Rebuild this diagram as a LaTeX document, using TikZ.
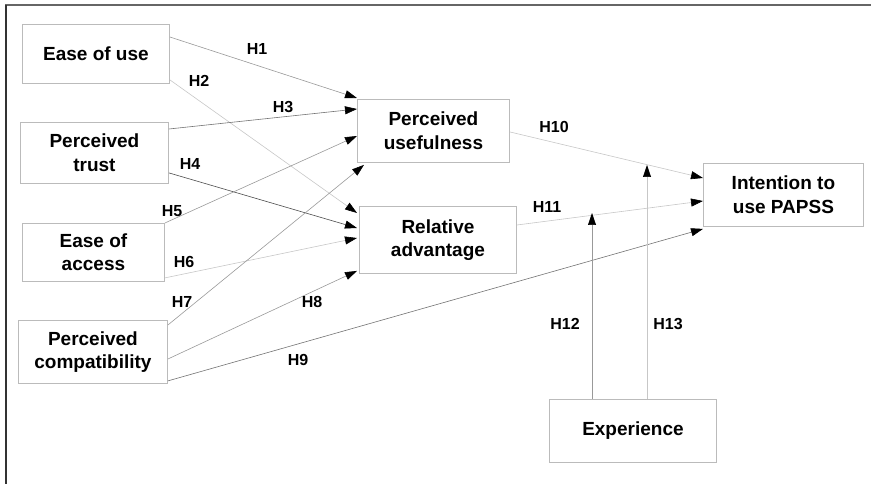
\documentclass[tikz,border=0pt]{standalone}
\usepackage{fontspec}
\setmainfont{Liberation Sans}
\usetikzlibrary{arrows.meta}
\definecolor{boxgray}{HTML}{BBBBBB}
\begin{document}
\begin{tikzpicture}[x=1pt,y=-1pt,
  box/.style={draw=boxgray, line width=0.9pt, anchor=north west, align=center, inner sep=0pt,
    font=\fontsize{19}{23.5}\selectfont\bfseries},
  lab/.style={font=\fontsize{16}{18}\selectfont\bfseries, inner sep=0pt},
  arr/.style={line width=0.6pt, -{Triangle[length=12pt,width=8pt,color=black]}},
  c1/.style={draw=black!55},
  c2/.style={draw=black!40},
  c3/.style={draw=black!22},
]
\useasboundingbox (0,0) rectangle (871,484);
% frame
\coordinate (ftl) at (6,5);
\coordinate (ftr) at (871,5);
\coordinate (fbl) at (6,484);
\draw[color=black!60, line width=2pt] (5,5) -- (ftr);
\draw[color=black!80, line width=2pt] (ftl) -- (fbl);

% boxes
\node[box, minimum width=147, minimum height=59] (eou) at (22,24) {Ease of use};
\node[box, minimum width=148, minimum height=61] (pt) at (20,122) {Perceived\\trust};
\node[box, minimum width=142, minimum height=58] (ea) at (22,223) {Ease of\\access};
\node[box, minimum width=149, minimum height=63] (pc) at (18,320) {Perceived\\compatibility};
\node[box, minimum width=152, minimum height=63] (pu) at (357,99) {Perceived\\usefulness};
\node[box, minimum width=157, minimum height=67] (ra) at (359,206) {Relative\\advantage};
\node[box, minimum width=160, minimum height=63] (itu) at (703,163) {Intention to\\use PAPSS};
\node[box, minimum width=167, minimum height=63] (exp) at (549,399) {Experience};

% connectors
\draw[arr,c2] ([yshift=-13pt]eou.north east) -- ([yshift=1pt]pu.north west);
\draw[arr,c3] ([yshift=4pt]eou.south east) -- ([yshift=-7pt,xshift=-2pt]ra.north west);
\draw[arr,c1] ([yshift=-7pt]pt.north east) -- ([yshift=-10pt]pu.north west);
\draw[arr,draw=black!70] ([yshift=11pt]pt.south east) -- ([yshift=-22pt,xshift=-2pt]ra.north west);
\draw[arr,c2] (ea.north east) -- ([yshift=-37pt]pu.north west);
\draw[arr,c3] ([yshift=4pt]ea.south east) -- ([yshift=-32pt,xshift=-2pt]ra.north west);
\draw[arr,c2] ([yshift=-5pt]pc.north east) -- ([xshift=7pt,yshift=-2pt]pu.south west);
\draw[arr,c2] ([yshift=-39pt]pc.north east) -- ([yshift=3pt,xshift=-2pt]ra.south west);
\draw[arr,c1] ([yshift=3pt]pc.south east) -- ([yshift=-2pt]itu.south west);
\draw[arr,c3] ([yshift=-1pt]pu.east) -- ([yshift=-15pt]itu.north west);
\draw[arr,c3] ([yshift=-19pt]ra.north east) -- ([yshift=-38pt]itu.north west);
\coordinate (m12) at (592,213);
\coordinate (m13) at (647,165);
\draw[arr,c2] ([xshift=43pt]exp.north west) -- (m12);
\draw[arr,c3] ([xshift=98pt]exp.north west) -- (m13);

% labels
\node[lab] (h1) at (257,49) {H1};
\node[lab] (h2) at (199,81) {H2};
\node[lab] (h3) at (283,107) {H3};
\node[lab] (h4) at (190,164) {H4};
\node[lab] (h5) at (172,211) {H5};
\node[lab] (h6) at (184,262) {H6};
\node[lab] (h7) at (182,302) {H7};
\node[lab] (h8) at (312,302) {H8};
\node[lab] (h9) at (298,360) {H9};
\node[lab] (h10) at (554,127) {H10};
\node[lab] (h11) at (547,207) {H11};
\node[lab] (h12) at (565,324) {H12};
\node[lab] (h13) at (668,324) {H13};
\end{tikzpicture}
\end{document}
